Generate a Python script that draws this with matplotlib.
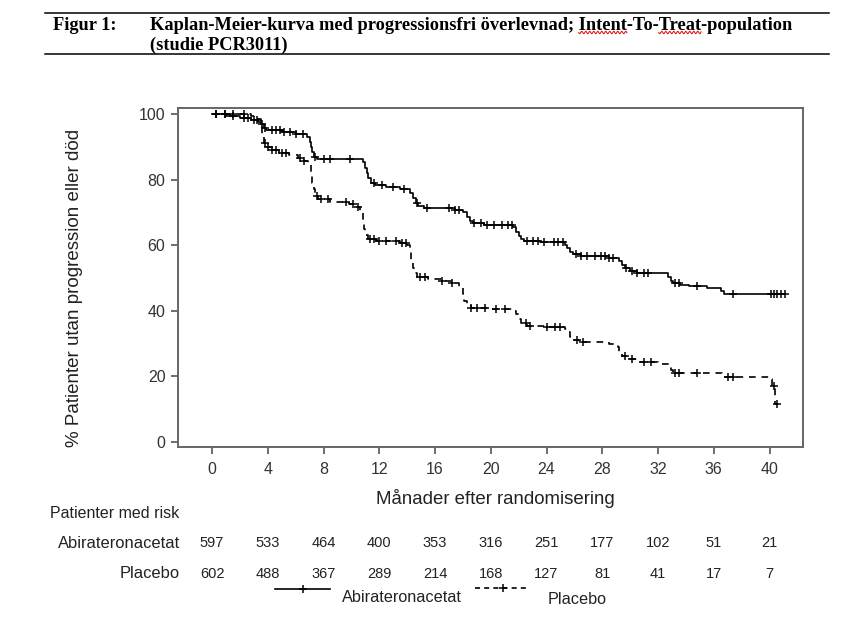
import numpy as np
import matplotlib
matplotlib.use("Agg")
import matplotlib.pyplot as plt
from matplotlib.transforms import blended_transform_factory
from matplotlib.lines import Line2D

# ---------------- data ----------------
abi_t = [0, 1.0, 2.0, 2.8, 3.3, 3.5, 3.7, 3.9, 5.0, 6.0, 6.8, 7.0, 7.1, 7.2, 7.3, 7.5,
         10.8, 11.0, 11.1, 11.2, 11.4, 11.7, 12.5, 13.5, 14.2, 14.4, 14.6, 14.8, 15.2,
         17.4, 18.0, 18.3, 18.5, 18.7, 19.5, 21.6, 21.8, 22.0, 22.2, 22.4, 23.5,
         25.3, 25.5, 25.7, 25.9, 26.5, 28.5, 29.2, 29.4, 29.6, 30.0, 30.5,
         32.7, 32.9, 33.1, 33.6, 34.2, 35.5, 36.5, 36.7]
abi_s = [100, 99.5, 98.8, 98.2, 97.6, 96.8, 95.8, 95.0, 94.5, 94.0, 93.0, 91.5, 90.0, 88.5, 87.0, 86.2,
         85.4, 83.5, 82.0, 80.5, 79.0, 78.2, 77.8, 77.2, 76.0, 74.5, 73.0, 71.8, 71.2,
         70.6, 70.0, 68.7, 67.5, 66.8, 66.2, 65.4, 64.0, 62.8, 61.8, 61.3, 61.0,
         60.2, 59.0, 57.8, 57.2, 56.6, 56.0, 55.2, 54.0, 53.0, 52.2, 51.6,
         50.2, 49.0, 48.6, 48.0, 47.5, 47.0, 46.0, 45.1]
abi_end = 41.1
abi_cens = [0.3, 0.9, 1.5, 2.3, 2.6, 3.0, 3.2, 3.6, 3.8, 4.3, 4.6, 4.9, 5.2, 5.6, 6.0, 6.5,
            7.4, 8.0, 8.5, 9.9, 11.6, 12.2, 13.0, 13.8, 14.7, 15.4, 17.0, 17.4, 17.7,
            18.8, 19.3, 19.7, 20.2, 20.8, 21.2, 21.5, 22.6, 23.0, 23.4, 23.8, 24.5, 24.8,
            25.2, 26.1, 26.5, 26.9, 27.5, 27.9, 28.2, 28.5, 28.8, 29.7, 30.1, 30.5, 31.0,
            31.3, 33.2, 33.5, 34.8, 37.4, 40.1, 40.3, 40.5, 40.8, 41.1]

pla_t = [0, 2.8, 3.3, 3.5, 3.6, 3.7, 3.9, 4.3, 4.8, 5.5, 6.2, 6.6, 6.9, 7.1, 7.2, 7.3, 7.4, 7.6,
         8.5, 9.8, 10.2, 10.6, 10.8, 10.9, 11.0, 11.2, 11.8, 13.5, 14.0, 14.2, 14.3, 14.4,
         14.5, 14.7, 15.5, 16.5, 17.2, 17.7, 18.0, 18.1, 18.3, 18.6, 19.8, 21.6, 21.8,
         22.0, 22.2, 22.6, 24.0, 25.3, 25.5, 25.7, 25.9, 26.3, 28.5, 29.1, 29.2, 29.4,
         29.8, 30.5, 32.0, 32.8, 32.9, 33.1, 36.6, 36.8, 40.0, 40.2, 40.4]
pla_s = [100, 99.5, 98.5, 96, 93, 91, 90, 89, 88, 87.5, 86.5, 85.5, 84.5, 82, 79, 77, 75, 74,
         73.2, 72.6, 71.5, 70.0, 67.5, 65, 63, 62, 61.3, 60.8, 60, 58, 55.5, 53,
         51.5, 50.2, 49.6, 49.2, 48.5, 47.2, 45, 43, 41.5, 41.0, 40.6, 40.0, 39,
         37.5, 36.2, 35.4, 35.0, 34.6, 33.5, 32, 31, 30.4, 30.0, 29.0, 27.5, 26.2,
         25.3, 24.4, 23.8, 23.3, 22, 21, 20.3, 19.8, 19.2, 17.2, 11.5]
pla_end = 40.5
pla_cens = [0.3, 0.9, 1.5, 2.3, 3.8, 4.0, 4.3, 4.6, 5.0, 5.3, 6.3, 6.6, 7.5, 7.8, 8.3, 9.6,
            10.1, 10.5, 11.3, 11.6, 12.0, 12.5, 13.2, 13.6, 13.9, 14.9, 15.3, 16.5, 17.2,
            18.6, 19.0, 19.6, 20.4, 21.0, 22.5, 22.8, 24.0, 24.6, 25.0, 26.2, 26.6, 29.6,
            30.1, 31.0, 31.5, 33.2, 33.5, 34.8, 37.0, 37.4, 40.3, 40.5]

risk_times = [0, 4, 8, 12, 16, 20, 24, 28, 32, 36, 40]
risk_abi = [597, 533, 464, 400, 353, 316, 251, 177, 102, 51, 21]
risk_pla = [602, 488, 367, 289, 214, 168, 127, 81, 41, 17, 7]

title_num = "Figur 1:"
title_pre = "Kaplan-Meier-kurva med progressionsfri överlevnad; "
title_l1 = "Kaplan-Meier-kurva med progressionsfri överlevnad; Intent-To-Treat-population"
title_l2 = "(studie PCR3011)"
squiggle_words = ["Intent", "Treat"]
ylabel = "% Patienter utan progression eller död"
xlabel = "Månader efter randomisering"
risk_title = "Patienter med risk"
names = ["Abirateronacetat", "Placebo"]

# ---------------- figure ----------------
W, H = 858, 634
fig = plt.figure(figsize=(W / 100, H / 100), dpi=100)
sans = ["Liberation Sans", "DejaVu Sans"]
serif = ["Liberation Serif", "DejaVu Serif"]
plt.rcParams["font.family"] = sans
TXT = "#222222"

def fx(x):
    return x / W

def fy(y):
    return 1 - y / H

ax = fig.add_axes([fx(178), fy(447), fx(803) - fx(178), fy(108) - fy(447)])

def step_vals(t, s, end):
    return list(t) + [end], list(s) + [s[-1]]

def surv_at(t, s, x):
    idx = np.searchsorted(np.array(t), np.array(x), side="right") - 1
    return np.array(s)[idx]

tt, ss = step_vals(abi_t, abi_s, abi_end)
ax.step(tt, ss, where="post", color="black", lw=1.2)
ax.plot(abi_cens, surv_at(abi_t, abi_s, abi_cens), ls="none", marker="+",
        ms=6, mew=1.1, color="black")

tt, ss = step_vals(pla_t, pla_s, pla_end)
ax.step(tt, ss, where="post", color="black", lw=1.2, ls=(0, (4, 3.5)))
ax.plot(pla_cens, surv_at(pla_t, pla_s, pla_cens), ls="none", marker="+",
        ms=6, mew=1.1, color="black")

ax.set_xlim(-2.44, 42.4)
ax.set_ylim(-1.5, 101.8)
ax.set_xticks(risk_times)
ax.set_yticks([0, 20, 40, 60, 80, 100])
for sp in ax.spines.values():
    sp.set_color("#666666")
    sp.set_linewidth(1.4)
ax.tick_params(axis="both", colors="#555555", length=5, width=1.2, labelsize=11.5,
               labelcolor="#333333")
ax.tick_params(axis="x", pad=6)
ax.tick_params(axis="y", pad=4)

fig.text(fx(75), fy(288), ylabel, rotation=90, ha="center", va="center",
         fontsize=13.5, color=TXT)
fig.text(fx(495), fy(499), xlabel, ha="center", va="center", fontsize=13.4, color=TXT)

# risk table
fig.text(fx(50), fy(514), risk_title, ha="left", va="center", fontsize=11.5, color=TXT)
fig.text(fx(180), fy(543), names[0], ha="right", va="center", fontsize=11.9, color=TXT)
fig.text(fx(180), fy(574), names[1], ha="right", va="center", fontsize=11.9, color=TXT)
tr = blended_transform_factory(ax.transData, fig.transFigure)
for t, a, p in zip(risk_times, risk_abi, risk_pla):
    ax.text(t, fy(543), str(a), transform=tr, ha="center", va="center",
            fontsize=10.5, color=TXT)
    ax.text(t, fy(574), str(p), transform=tr, ha="center", va="center",
            fontsize=10.5, color=TXT)

# legend
legend_artists = [
    Line2D([fx(275), fx(330)], [fy(589), fy(589)], transform=fig.transFigure,
           color="black", lw=1.2),
    Line2D([fx(303)], [fy(589)], transform=fig.transFigure, marker="+", ms=6,
           mew=1.1, color="black", ls="none"),
    Line2D([fx(475), fx(527)], [fy(588), fy(588)], transform=fig.transFigure,
           color="black", lw=1.2, ls=(0, (3, 2.5))),
    Line2D([fx(503)], [fy(588)], transform=fig.transFigure, marker="+", ms=6,
           mew=1.1, color="black", ls="none"),
]
for art in legend_artists:
    fig.add_artist(art)
fig.text(fx(342), fy(597), names[0], ha="left", va="center", fontsize=11.7, color=TXT)
fig.text(fx(548), fy(600), names[1], ha="left", va="center", fontsize=11.7, color=TXT)

# header
for yy in (12.5, 54):
    fig.add_artist(Line2D([fx(45), fx(829)], [fy(yy), fy(yy)], transform=fig.transFigure,
                          color="black", lw=1.1))
TS = 13.2
fig.text(fx(53), fy(25), title_num, ha="left", va="center", fontsize=TS,
         fontweight="bold", family=serif)
fig.text(fx(150), fy(25), title_l1, ha="left", va="center", fontsize=TS,
         fontweight="bold", family=serif)
fig.text(fx(150), fy(45), title_l2, ha="left", va="center", fontsize=TS,
         fontweight="bold", family=serif)

# red spell-check squiggles under words in the title
renderer = fig.canvas.get_renderer()
def text_width(s):
    t = fig.text(0, 0, s, fontsize=TS, fontweight="bold", family=serif)
    w = t.get_window_extent(renderer).width
    t.remove()
    return w

for word in squiggle_words:
    i = title_l1.index(word)
    end_px = 150 + text_width(title_l1[:i + len(word)])
    start_px = end_px - text_width(word)
    xs = np.linspace(start_px, end_px, 200)
    ys = 32.5 + 1.2 * np.sin(2 * np.pi * (xs - start_px) / 4.0)
    fig.add_artist(Line2D(fx(xs), fy(ys), transform=fig.transFigure,
                          color="#e02020", lw=0.8))

fig.savefig("out.png", dpi=100)
